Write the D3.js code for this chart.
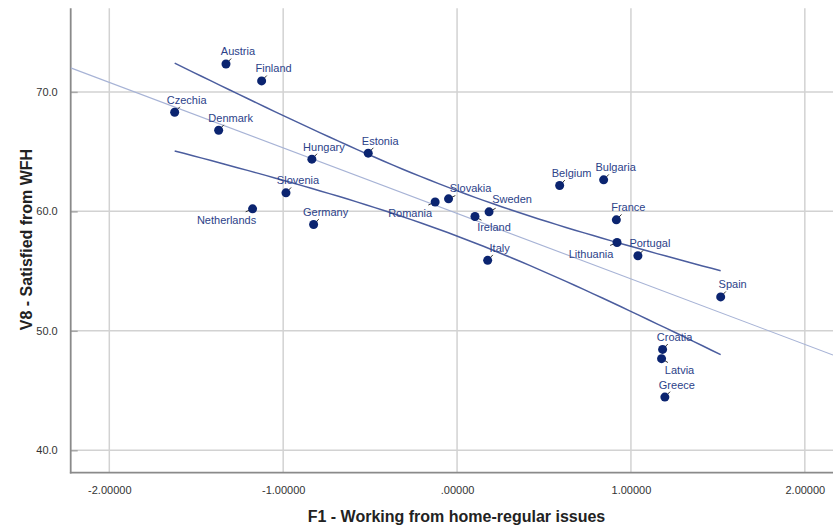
<!DOCTYPE html>
<html>
<head>
<meta charset="utf-8">
<script src="https://cdn.jsdelivr.net/npm/d3@7"></script>
<style>
  html, body { margin: 0; padding: 0; background: #fff; }
  svg { display: block; }
  text { font-family: Arial, "Liberation Sans", sans-serif; }
</style>
</head>
<body>
<svg id="chart" width="833" height="529"></svg>
<script>
// ---- Data ----
const countries = ["Austria","Finland","Czechia","Denmark","Hungary","Estonia","Slovenia","Netherlands","Germany","Romania","Slovakia","Ireland","Sweden","Italy","Belgium","Bulgaria","France","Lithuania","Portugal","Spain","Croatia","Latvia","Greece"];
const f1Scores = [-1.329,-1.124,-1.624,-1.371,-0.835,-0.511,-0.984,-1.176,-0.825,-0.126,-0.049,0.103,0.184,0.176,0.590,0.843,0.916,0.920,1.040,1.516,1.182,1.176,1.195];
const v8Satisfied = [72.34,70.92,68.30,66.79,64.37,64.87,61.55,60.21,58.90,60.78,61.05,59.57,59.96,55.90,62.16,62.64,59.29,57.39,56.28,52.84,48.44,47.67,44.45];
const xTickValues = [-2, -1, 0, 1, 2];
const xTickLabels = ["-2.00000", "-1.00000", ".00000", "1.00000", "2.00000"];
const yTickValues = [40, 50, 60, 70];
const yTickLabels = ["40.0", "50.0", "60.0", "70.0"];
const xTitle = "F1 - Working from home-regular issues";
const yTitle = "V8 - Satisfied from WFH";

// ---- Label placement (layout only) ----
const defaultOffset = [12, -12.5];
const labelOffsets = {
  "Netherlands": [-26, 11],
  "Romania": [-25, 11],
  "Lithuania": [-26, 11],
  "Ireland": [19, 11],
  "Latvia": [18, 11],
  "Slovakia": [22, -10.5],
  "Sweden": [23, -12.5]
};

const points = countries.map((c, i) => ({ name: c, x: f1Scores[i], y: v8Satisfied[i] }));

const svg = d3.select("#chart");
const pL = 70.7, pR = 833, pT = 8.3, pB = 472.7;

const x = d3.scaleLinear().domain([-2.222, 2.162]).range([pL, pR]);
const y = d3.scaleLinear().domain([38.12, 77.0]).range([pB, pT]);

const gridColor = "#d2d2d2";
const axisColor = "#8a8a8a";

// Gridlines
svg.append("g").selectAll("line").data(xTickValues).join("line")
  .attr("x1", d => x(d)).attr("x2", d => x(d))
  .attr("y1", pT).attr("y2", pB)
  .attr("stroke", gridColor).attr("stroke-width", 1.5);
svg.append("g").selectAll("line").data(yTickValues).join("line")
  .attr("x1", pL).attr("x2", pR)
  .attr("y1", d => y(d)).attr("y2", d => y(d))
  .attr("stroke", gridColor).attr("stroke-width", 1.5);

// Axes
const yAxis = d3.axisLeft(y).tickValues(yTickValues)
  .tickFormat((d, i) => yTickLabels[i]).tickSizeInner(-7).tickSizeOuter(0).tickPadding(13);
const gy = svg.append("g").attr("transform", `translate(${pL},0)`).call(yAxis);
gy.select(".domain").remove();
gy.selectAll(".tick line").attr("stroke", "#a8a8a8").attr("stroke-width", 1.5);
gy.selectAll(".tick text").attr("font-size", 11).attr("fill", "#333")
  .attr("font-family", "Arial, 'Liberation Sans', sans-serif");

const xAxis = d3.axisBottom(x).tickValues(xTickValues)
  .tickFormat((d, i) => xTickLabels[i]).tickSize(0).tickPadding(14);
const gx = svg.append("g").attr("transform", `translate(0,${pB})`).call(xAxis);
gx.select(".domain").remove();
gx.selectAll(".tick text").attr("font-size", 11).attr("fill", "#333")
  .attr("font-family", "Arial, 'Liberation Sans', sans-serif");

svg.append("line").attr("x1", pL).attr("x2", pL).attr("y1", pT).attr("y2", pB + 0.8)
  .attr("stroke", axisColor).attr("stroke-width", 1.8);
svg.append("line").attr("x1", pL - 0.8).attr("x2", pR).attr("y1", pB).attr("y2", pB)
  .attr("stroke", axisColor).attr("stroke-width", 1.8);

// Regression & 95% mean confidence interval
const n = points.length;
const mx = d3.mean(points, d => d.x), my = d3.mean(points, d => d.y);
const sxx = d3.sum(points, d => (d.x - mx) ** 2);
const sxy = d3.sum(points, d => (d.x - mx) * (d.y - my));
const slope = sxy / sxx, intercept = my - slope * mx;
const sres = Math.sqrt(d3.sum(points, d => (d.y - (intercept + slope * d.x)) ** 2) / (n - 2));
const tcrit = 2.080;
const fit = v => intercept + slope * v;
const ci = v => tcrit * sres * Math.sqrt(1 / n + (v - mx) ** 2 / sxx);

svg.append("clipPath").attr("id", "plotclip").append("rect")
  .attr("x", pL).attr("y", pT).attr("width", pR - pL).attr("height", pB - pT);

const [xmin, xmax] = d3.extent(points, d => d.x);
const samples = d3.range(0, 61).map(i => xmin + (xmax - xmin) * i / 60);
const line = d3.line().x(d => x(d[0])).y(d => y(d[1]));

svg.append("path").attr("clip-path", "url(#plotclip)")
  .attr("d", line(x.domain().map(v => [v, fit(v)])))
  .attr("fill", "none").attr("stroke", "#a7b3d6").attr("stroke-width", 1.1);
svg.append("path")
  .attr("d", line(samples.map(v => [v, fit(v) + ci(v)])))
  .attr("fill", "none").attr("stroke", "#4b5d9e").attr("stroke-width", 1.5);
svg.append("path")
  .attr("d", line(samples.map(v => [v, fit(v) - ci(v)])))
  .attr("fill", "none").attr("stroke", "#4b5d9e").attr("stroke-width", 1.5);

// Leader lines
const off = d => labelOffsets[d.name] || defaultOffset;
svg.append("g").selectAll("line").data(points).join("line")
  .attr("x1", d => x(d.x)).attr("y1", d => y(d.y))
  .attr("x2", d => { const o = off(d); const L = Math.hypot(o[0], o[1]); return x(d.x) + o[0] / L * 7.5; })
  .attr("y2", d => { const o = off(d); const L = Math.hypot(o[0], o[1]); return y(d.y) + o[1] / L * 7.5; })
  .attr("stroke", "#333").attr("stroke-width", 1);

// Points
svg.append("g").selectAll("circle").data(points).join("circle")
  .attr("cx", d => x(d.x)).attr("cy", d => y(d.y)).attr("r", 4.5)
  .attr("fill", "#0b2470");

// Labels
svg.append("g").selectAll("text").data(points).join("text")
  .attr("x", d => x(d.x) + off(d)[0]).attr("y", d => y(d.y) + off(d)[1])
  .attr("text-anchor", "middle").attr("dominant-baseline", "central")
  .attr("font-size", 11).attr("fill", "#2c4289")
  .text(d => d.name);

// Axis titles
svg.append("text").attr("x", 456.5).attr("y", 521.5)
  .attr("text-anchor", "middle").attr("font-size", 16).attr("font-weight", "bold").attr("fill", "#222")
  .text(xTitle);
svg.append("text").attr("transform", "translate(32,239.5) rotate(-90)")
  .attr("text-anchor", "middle").attr("font-size", 16).attr("font-weight", "bold").attr("fill", "#222")
  .text(yTitle);
</script>
</body>
</html>
